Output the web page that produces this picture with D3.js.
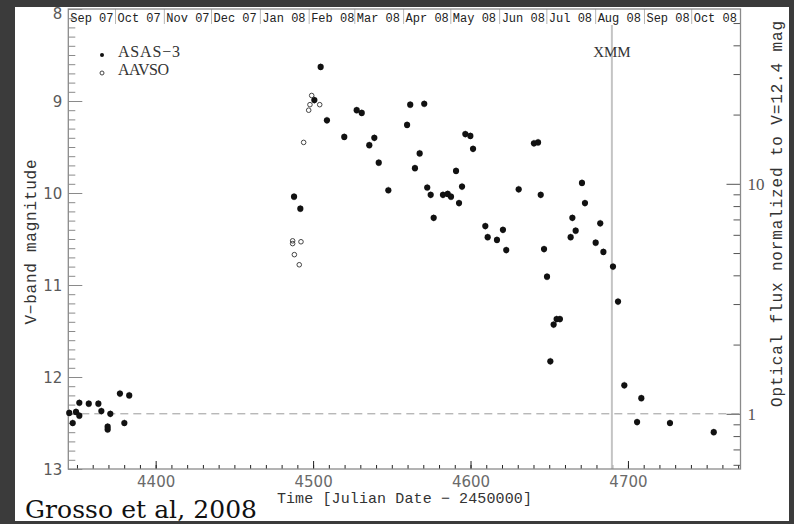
<!DOCTYPE html>
<html>
<head>
<meta charset="utf-8">
<script src="https://cdn.jsdelivr.net/npm/d3@7"></script>
<style>
  html, body { margin: 0; padding: 0; background: #3b3b3b; }
  svg { display: block; }
</style>
</head>
<body>
<svg id="chart" width="794" height="524"></svg>
<script>
// ---------------- DATA ----------------
const asasJD = [4345.1, 4347.3, 4349.4, 4351.5, 4351.5, 4357.5, 4363.6, 4365.5, 4369.5, 4369.5,
  4371.2, 4377.3, 4380.1, 4383.2,
  4487.9, 4491.9, 4500.8, 4504.8, 4508.8, 4519.8, 4527.7, 4530.9, 4535.7, 4538.9,
  4541.7, 4547.8, 4559.7, 4561.7, 4564.7, 4567.7, 4570.6, 4572.5, 4574.7, 4576.6,
  4582.5, 4585.5, 4587.6, 4590.8, 4592.7, 4594.6, 4596.7, 4599.9, 4601.6, 4609.4,
  4610.9, 4616.8, 4620.6, 4622.7, 4630.6, 4640.3, 4642.9, 4644.6, 4646.7, 4648.6,
  4650.7, 4652.8, 4654.7, 4656.8, 4663.6, 4664.7, 4666.8, 4670.8, 4672.7, 4679.5,
  4682.4, 4684.4, 4690.5, 4693.7, 4697.7, 4705.8, 4708.5, 4726.7, 4754.5];
const asasV = [12.39, 12.50, 12.38, 12.28, 12.42, 12.29, 12.29, 12.37, 12.54, 12.57,
  12.40, 12.18, 12.50, 12.20,
  10.04, 10.17, 8.99, 8.63, 9.21, 9.39, 9.10, 9.13, 9.48, 9.40,
  9.67, 9.97, 9.26, 9.04, 9.73, 9.57, 9.03, 9.94, 10.02, 10.27,
  10.02, 10.01, 10.04, 9.76, 10.11, 9.93, 9.36, 9.38, 9.52, 10.36,
  10.48, 10.51, 10.40, 10.62, 9.96, 9.46, 9.45, 10.02, 10.61, 10.91,
  11.83, 11.43, 11.37, 11.37, 10.48, 10.27, 10.41, 9.89, 10.11, 10.54,
  10.33, 10.64, 10.80, 11.18, 12.09, 12.49, 12.23, 12.50, 12.60];
const aavsoJD = [4499.1, 4498.0, 4497.2, 4504.2, 4494.0, 4487.0, 4487.0, 4492.3, 4488.1, 4491.2];
const aavsoV  = [8.94, 9.04, 9.10, 9.04, 9.45, 10.52, 10.55, 10.53, 10.67, 10.78];

const magTicks = [8, 9, 10, 11, 12, 13];
const jdTicks = [4400, 4500, 4600, 4700];
const fluxTicks = [1, 10];
const fluxMinor = [0.6, 0.7, 0.8, 0.9, 2, 3, 4, 5, 6, 7, 8, 9, 20, 30, 40, 50];
const months = ["Sep 07","Oct 07","Nov 07","Dec 07","Jan 08","Feb 08","Mar 08",
                "Apr 08","May 08","Jun 08","Jul 08","Aug 08","Sep 08","Oct 08"];
const monthStart = [4344.5, 4374.5, 4405.5, 4435.5, 4466.5, 4497.5, 4526.5,
                    4557.5, 4587.5, 4618.5, 4648.5, 4679.5, 4710.5, 4740.5];
const jdRange = [4344.5, 4771.5];
const magRange = [8, 13];
const refMag = 12.4;
const xmmJD = 4689.8;
const errMag = 0.04;

// ---------------- LAYOUT ----------------
const svg = d3.select("#chart");
const L = 68.3, R = 740.5, T = 9, B = 469;
const frameCol = "#8a8a8a";

svg.append("rect").attr("x", 15).attr("y", 7).attr("width", 774).attr("height", 514).attr("fill", "#ffffff");

const x = d3.scaleLinear().domain(jdRange).range([L, R]);
const y = d3.scaleLinear().domain(magRange).range([T, B]);
const flux = m => Math.pow(10, -0.4 * (m - refMag));
const yF = d3.scaleLog().domain([flux(magRange[0]), flux(magRange[1])]).range([T, B]);

function styleAxis(g, col) {
  g.select(".domain").remove();
  g.selectAll(".tick line").attr("stroke", col || frameCol).attr("stroke-width", 1);
}

// left ticks (inward)
svg.append("g").attr("transform", `translate(${L},0)`)
  .call(d3.axisRight(y).tickValues(d3.range(8, 13.001, 0.1)).tickSize(7).tickFormat(""))
  .call(styleAxis);
svg.append("g").attr("transform", `translate(${L},0)`)
  .call(d3.axisRight(y).tickValues(magTicks).tickSize(14).tickFormat(""))
  .call(styleAxis);
// left labels
const leftLab = svg.append("g").attr("transform", `translate(${L},0)`)
  .call(d3.axisLeft(y).tickValues(magTicks).tickSize(0).tickPadding(6).tickFormat(d3.format("d")));
leftLab.select(".domain").remove();
leftLab.selectAll("text").attr("font-family", "DejaVu Sans").attr("font-size", 15).attr("fill", "#5a5a5a")
  .attr("dy", d => d === 8 ? "0.6em" : "0.35em");

// bottom ticks (inward)
svg.append("g").attr("transform", `translate(0,${B})`)
  .call(d3.axisTop(x).tickValues(d3.range(4350, 4771, 10)).tickSize(4).tickFormat(""))
  .call(styleAxis, "#222");
svg.append("g").attr("transform", `translate(0,${B})`)
  .call(d3.axisTop(x).tickValues(jdTicks).tickSize(8).tickFormat(""))
  .call(styleAxis, "#222");
const botLab = svg.append("g").attr("transform", `translate(0,${B})`)
  .call(d3.axisBottom(x).tickValues(jdTicks).tickSize(0).tickPadding(7).tickFormat(d3.format("d")));
botLab.select(".domain").remove();
botLab.selectAll("text").attr("font-family", "DejaVu Sans").attr("font-size", 15).attr("fill", "#6a6a6a");

// right ticks (inward)
svg.append("g").attr("transform", `translate(${R},0)`)
  .call(d3.axisLeft(yF).tickValues(fluxMinor).tickSize(7).tickFormat(""))
  .call(styleAxis, "#555");
svg.append("g").attr("transform", `translate(${R},0)`)
  .call(d3.axisLeft(yF).tickValues(fluxTicks).tickSize(14).tickFormat(""))
  .call(styleAxis, "#555");
const rightLab = svg.append("g").attr("transform", `translate(${R},0)`)
  .call(d3.axisRight(yF).tickValues(fluxTicks).tickSize(0).tickPadding(7).tickFormat(d3.format("d")));
rightLab.select(".domain").remove();
rightLab.selectAll("text").attr("font-family", "Liberation Serif").attr("font-size", 17).attr("fill", "#555");

// month strip
svg.append("g").selectAll("line").data(monthStart.slice(1)).join("line")
  .attr("x1", d => x(d)).attr("x2", d => x(d)).attr("y1", T).attr("y2", T + 15)
  .attr("stroke", "#b5b5b5").attr("stroke-width", 1);
svg.append("g").selectAll("text").data(months).join("text")
  .attr("x", (d, i) => x(monthStart[i]) + 2).attr("y", T + 12.5)
  .attr("font-family", "Liberation Mono").attr("font-size", 12).attr("fill", "#222")
  .text(d => d);

// reference dashed line
svg.append("line").attr("x1", L).attr("x2", R).attr("y1", y(refMag)).attr("y2", y(refMag))
  .attr("stroke", "#9a9a9a").attr("stroke-width", 1).attr("stroke-dasharray", "8,5");

// XMM line
svg.append("line").attr("x1", x(xmmJD)).attr("x2", x(xmmJD)).attr("y1", T + 16).attr("y2", B)
  .attr("stroke", "#c4c4c4").attr("stroke-width", 2);
svg.append("text").attr("x", x(xmmJD)).attr("y", 57).attr("text-anchor", "middle")
  .attr("font-family", "Liberation Serif").attr("font-size", 15).attr("fill", "#333").text("XMM");

// frame
svg.append("rect").attr("x", L).attr("y", T).attr("width", R - L).attr("height", B - T)
  .attr("fill", "none").attr("stroke", frameCol).attr("stroke-width", 1.3);

// error bars
const asas = asasJD.map((d, i) => ({jd: d, v: asasV[i]}));
const aavso = aavsoJD.map((d, i) => ({jd: d, v: aavsoV[i]}));
svg.append("g").selectAll("line").data(asas).join("line")
  .attr("x1", d => x(d.jd)).attr("x2", d => x(d.jd))
  .attr("y1", d => y(d.v - errMag)).attr("y2", d => y(d.v + errMag))
  .attr("stroke", "#999").attr("stroke-width", 1);
// ASAS points
svg.append("g").selectAll("circle").data(asas).join("circle")
  .attr("cx", d => x(d.jd)).attr("cy", d => y(d.v)).attr("r", 3.1).attr("fill", "#111");
// AAVSO points
svg.append("g").selectAll("circle").data(aavso).join("circle")
  .attr("cx", d => x(d.jd)).attr("cy", d => y(d.v)).attr("r", 2.3)
  .attr("fill", "none").attr("stroke", "#444").attr("stroke-width", 1);

// legend
svg.append("circle").attr("cx", 102).attr("cy", 55).attr("r", 2).attr("fill", "#111");
svg.append("circle").attr("cx", 102).attr("cy", 73).attr("r", 2).attr("fill", "none").attr("stroke", "#444");
svg.append("text").attr("x", 118).attr("y", 57).attr("font-family", "Liberation Serif").attr("font-size", 16)
  .attr("textLength", 62).attr("fill", "#333").text("ASAS\u22123");
svg.append("text").attr("x", 118).attr("y", 75).attr("font-family", "Liberation Serif").attr("font-size", 16)
  .attr("textLength", 51).attr("fill", "#333").text("AAVSO");

// axis titles
svg.append("text").attr("x", (L + R) / 2).attr("y", 503).attr("text-anchor", "middle")
  .attr("font-family", "Liberation Mono").attr("font-size", 15).attr("fill", "#333")
  .attr("textLength", 255).text("Time [Julian Date \u2212 2450000]");
svg.append("text").attr("transform", `translate(36,242) rotate(-90)`).attr("text-anchor", "middle")
  .attr("font-family", "Liberation Mono").attr("font-size", 16).attr("fill", "#333")
  .attr("textLength", 165).text("V\u2212band magnitude");
svg.append("text").attr("transform", `translate(782,214) rotate(-90)`).attr("text-anchor", "middle")
  .attr("font-family", "Liberation Mono").attr("font-size", 16).attr("fill", "#333")
  .attr("textLength", 386).text("Optical flux normalized to V=12.4 mag");

// citation
svg.append("text").attr("x", 25).attr("y", 518).attr("font-family", "DejaVu Serif").attr("font-size", 25)
  .attr("textLength", 232).attr("fill", "#111").text("Grosso et al, 2008");
</script>
</body>
</html>
